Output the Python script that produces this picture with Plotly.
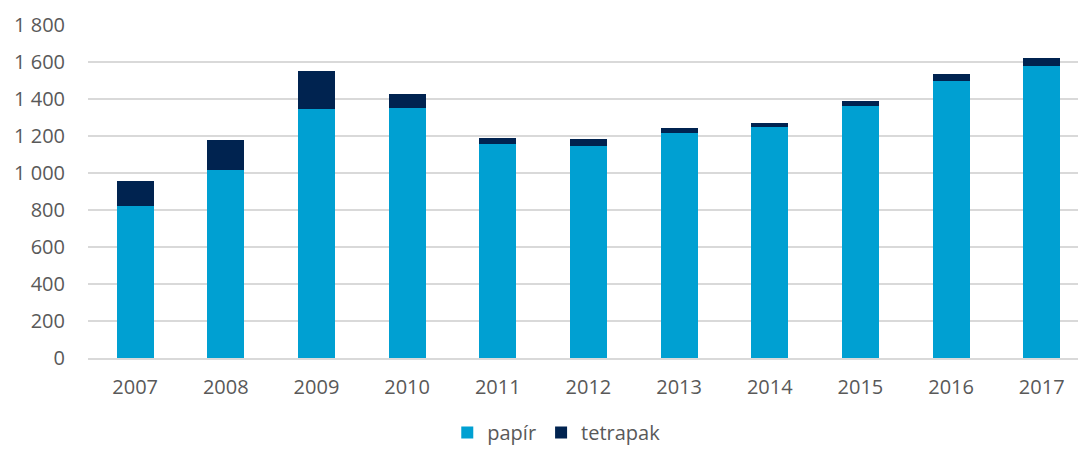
import plotly.graph_objects as go

years = ["2007", "2008", "2009", "2010", "2011", "2012", "2013", "2014", "2015", "2016", "2017"]
papir = [822, 1016, 1346, 1351, 1157, 1146, 1216, 1249, 1362, 1497, 1578]
tetrapak = [135, 162, 205, 76, 32, 38, 27, 21, 27, 38, 44]
y_ticks = [0, 200, 400, 600, 800, 1000, 1200, 1400, 1600, 1800]
y_tick_labels = ["0", "200", "400", "600", "800", "1 000", "1 200", "1 400", "1 600", "1 800"]

fig = go.Figure()
fig.add_trace(go.Bar(x=years, y=papir, name="papír", marker_color="#00A0D2", marker_line_width=0))
fig.add_trace(go.Bar(x=years, y=tetrapak, name="tetrapak", marker_color="#002350", marker_line_width=0))

fig.update_layout(
    barmode="stack",
    bargap=0.592,
    width=1078, height=452,
    margin=dict(l=88, r=0, t=25, b=94, autoexpand=False),
    paper_bgcolor="white", plot_bgcolor="white",
    font=dict(family="Open Sans, Lato, sans-serif", size=20, color="#595959"),
    legend=dict(orientation="h", x=0.473, xanchor="center", yref="container", y=0.0, yanchor="bottom",
                font=dict(size=20, color="#595959"), traceorder="normal"),
    showlegend=True,
)
fig.update_xaxes(type="category", range=[-0.52, 10.40], showline=True, linecolor="#d9d9d9",
                 linewidth=1.5, showgrid=False, ticks="", ticklabelstandoff=10, automargin=False)
fig.update_yaxes(range=[0, 1800], tickvals=y_ticks, ticktext=y_tick_labels, showgrid=True,
                 gridcolor="#d9d9d9", gridwidth=1.5, zeroline=False, showline=False,
                 ticks="", ticklabelstandoff=22, automargin=False)

fig.write_html("out.html", config={"displayModeBar": False},
               post_script="document.body.style.margin='0';document.body.style.overflow='hidden';")
